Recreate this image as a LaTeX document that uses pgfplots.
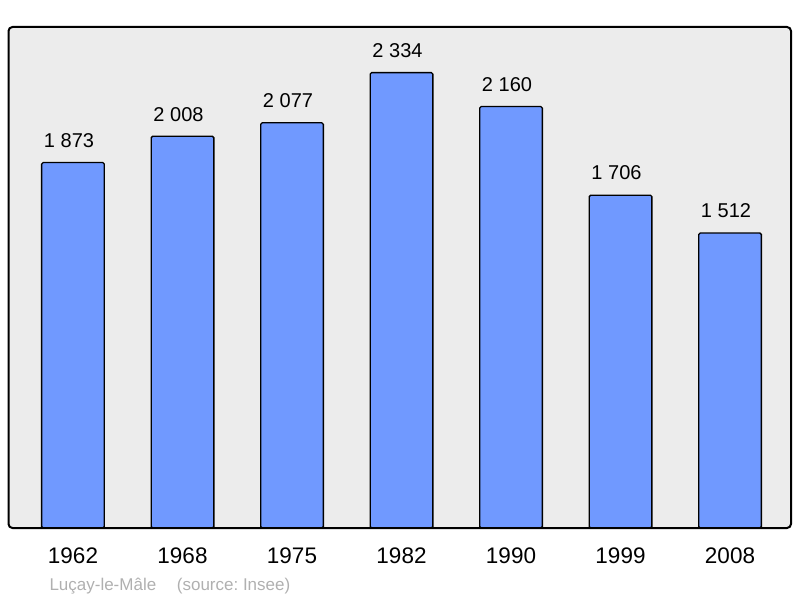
\documentclass[border=0pt]{standalone}
\usepackage{fontspec}
\setmainfont{Liberation Sans}
\usepackage{pgfplots}
\pgfplotsset{compat=1.18}
\definecolor{barblue}{HTML}{7099FF}
\definecolor{panel}{HTML}{ECECEC}
\definecolor{note}{HTML}{B0B0B0}
\frenchspacing
\begin{document}
\begin{tikzpicture}
\path[use as bounding box] (-8.5pt,-70pt) rectangle (791.5pt,528pt);
\begin{axis}[
  at={(0pt,0pt)}, anchor=south west,
  scale only axis, width=782.5pt, height=501pt,
  xmin=-0.589, xmax=6.557, ymin=0, ymax=2568,
  clip=false,
  axis background/.style={fill=panel},
  axis line style={draw=none},
  major tick length=0pt,
  ytick=\empty,
  xtick=data,
  xticklabels={1962,1968,1975,1982,1990,1999,2008},
  xticklabel style={anchor=north, inner sep=0pt, yshift=-19.7pt,
    font=\fontsize{22.5}{26}\selectfont},
  ybar, bar width=62.7pt,
  point meta=y,
  nodes near coords={\pgfmathprintnumber[assume math mode=true, 1000 sep={\ }]{\pgfplotspointmeta}},
  every node near coord/.append style={anchor=south, inner sep=0pt, yshift=14.4pt,
    xshift=-4pt, font=\fontsize{20}{24}\selectfont, text=black},
]
\addplot[fill=barblue, draw=black, line width=1.3pt, rounded corners=1.5pt]
table {
x y
0 1873
1 2008
2 2077
3 2334
4 2160
5 1706
6 1512
};
\draw[line width=2pt, rounded corners=4pt] (rel axis cs:0,0) rectangle (rel axis cs:1,1);
\end{axis}
\node[anchor=base west, inner sep=0pt, text=note, font=\fontsize{17}{19}\selectfont] at (40.8pt,-62.7pt) {Luçay-le-Mâle};
\node[anchor=base west, inner sep=0pt, text=note, font=\fontsize{17}{19}\selectfont] at (168.2pt,-62.7pt) {(source: Insee)};
\end{tikzpicture}
\end{document}
